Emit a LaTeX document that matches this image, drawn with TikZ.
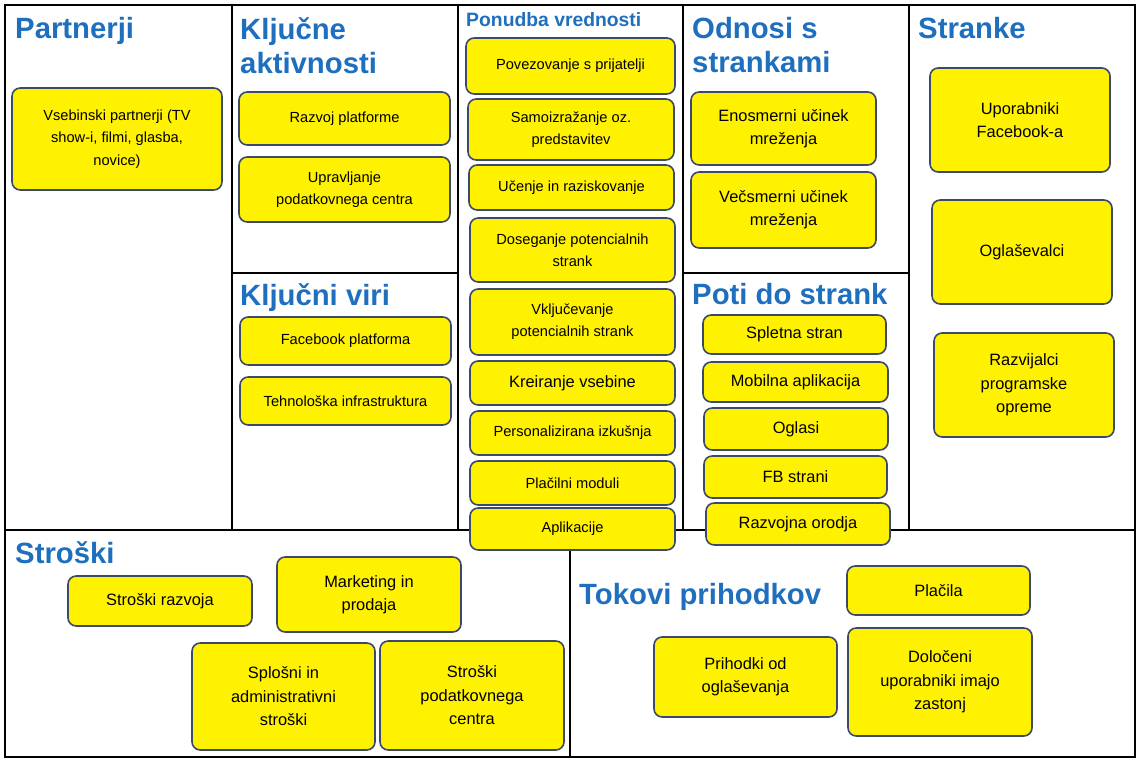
\documentclass[tikz,border=0pt]{standalone}
\usepackage{fontspec}
\setmainfont{Liberation Sans}
\usetikzlibrary{positioning}
\definecolor{headblue}{HTML}{1F6FBF}
\definecolor{cardline}{HTML}{3B4A6B}
\tikzset{
  card/.style={draw=cardline, line width=1.4pt, fill=yellow,
    rounded corners=7pt, align=center, inner sep=2pt,
    font=\fontsize{14}{20}\selectfont},
  small/.style={font=\fontsize{12.5}{19}\selectfont},
  head/.style={anchor=north west, inner sep=0pt, text=headblue,
    font=\fontsize{25}{29}\selectfont\bfseries, align=left},
  grid/.style={line width=1.5pt}
}
% name, x1, y1, x2, y2, options, text
\newcommand\cardbox[7]{%
  \pgfmathsetmacro\cw{(#4-#2)*0.03}%
  \pgfmathsetmacro\ch{(#5-#3)*0.03}%
  \node[card, #6, minimum width=\cw cm, minimum height=\ch cm]
    (#1) at ({(#2+#4)/2},{(#3+#5)/2}) {#7};}

\begin{document}
\begin{tikzpicture}[x=0.03cm, y=-0.03cm]
\useasboundingbox (0,0) rectangle (1143,766);
\fill[white] (0,0) rectangle (1143,766);

% grid
\draw[grid] (5,5) rectangle (1135,757);
\draw[grid] (5,530) -- (1135,530);
\foreach \x in {232,458,683,909} \draw[grid] (\x,5) -- (\x,530);
\draw[grid] (232,273) -- (458,273);
\draw[grid] (683,273) -- (909,273);
\draw[grid] (570,530) -- (570,757);

% headings
\node[head] (partnerji) at (15,17) {Partnerji};
\node[head] (aktivnosti) at (240,17) {Ključne\\aktivnosti};
\node[head, font=\fontsize{16.5}{18}\selectfont\bfseries] (ponudba) at (466,12) {Ponudba vrednosti};
\node[head] (odnosi) at (692,17) {Odnosi s\\strankami};
\node[head] (stranke) at (918,17) {Stranke};
\node[head] (viri) at (240,283) {Ključni viri};
\node[head] (poti) at (692,283) {Poti do strank};
\node[head] (stroski) at (15,541) {Stroški};
\node[head] (tokovi) at (579,583) {Tokovi prihodkov};

% partnerji
\cardbox{vsebinski}{12}{88}{222}{190}{small}{Vsebinski partnerji (TV\\show-i, filmi, glasba,\\novice)}

% aktivnosti, viri
\cardbox{razvoj}{239}{92}{450}{145}{small}{Razvoj platforme}
\cardbox{upravljanje}{239}{157}{450}{222}{small}{Upravljanje\\podatkovnega centra}
\cardbox{platforma}{240}{317}{451}{365}{small}{Facebook platforma}
\cardbox{infra}{240}{377}{451}{425}{small}{Tehnološka infrastruktura}

% ponudba vrednosti
\cardbox{povezovanje}{466}{38}{675}{94}{small}{Povezovanje s prijatelji}
\cardbox{samoizrazanje}{468}{99}{674}{160}{small}{Samoizražanje oz.\\predstavitev}
\cardbox{ucenje}{469}{165}{674}{210}{small}{Učenje in raziskovanje}
\cardbox{doseganje}{470}{218}{675}{282}{small}{Doseganje potencialnih\\strank}
\cardbox{vkljucevanje}{470}{289}{675}{355}{small}{Vključevanje\\potencialnih strank}
\cardbox{kreiranje}{470}{361}{675}{405}{}{Kreiranje vsebine}
\cardbox{personal}{470}{411}{675}{455}{small}{Personalizirana izkušnja}
\cardbox{placilni}{470}{461}{675}{505}{small}{Plačilni moduli}
\cardbox{aplikacije}{470}{508}{675}{550}{small}{Aplikacije}

% odnosi
\cardbox{enosmerni}{691}{92}{876}{165}{}{Enosmerni učinek\\mreženja}
\cardbox{vecsmerni}{691}{172}{876}{248}{}{Večsmerni učinek\\mreženja}

% poti
\cardbox{spletna}{703}{315}{886}{354}{}{Spletna stran}
\cardbox{mobilna}{703}{362}{888}{402}{}{Mobilna aplikacija}
\cardbox{oglasi}{704}{408}{888}{450}{}{Oglasi}
\cardbox{fbstrani}{704}{456}{887}{498}{}{FB strani}
\cardbox{orodja}{706}{503}{890}{545}{}{Razvojna orodja}

% stranke
\cardbox{uporabniki}{930}{68}{1110}{172}{}{Uporabniki\\Facebook-a}
\cardbox{oglasevalci}{932}{200}{1112}{304}{}{Oglaševalci}
\cardbox{razvijalci}{934}{333}{1114}{437}{}{Razvijalci\\programske\\opreme}

% stroski
\cardbox{strrazvoja}{68}{576}{252}{626}{}{Stroški razvoja}
\cardbox{marketing}{277}{557}{461}{632}{}{Marketing in\\prodaja}
\cardbox{splosni}{192}{643}{375}{750}{}{Splošni in\\administrativni\\stroški}
\cardbox{strpodat}{380}{641}{564}{750}{}{Stroški\\podatkovnega\\centra}

% prihodki
\cardbox{placila}{847}{566}{1030}{615}{}{Plačila}
\cardbox{prihodki}{654}{637}{837}{717}{}{Prihodki od\\oglaševanja}
\cardbox{doloceni}{848}{628}{1032}{736}{}{Določeni\\uporabniki imajo\\zastonj}
\end{tikzpicture}
\end{document}
